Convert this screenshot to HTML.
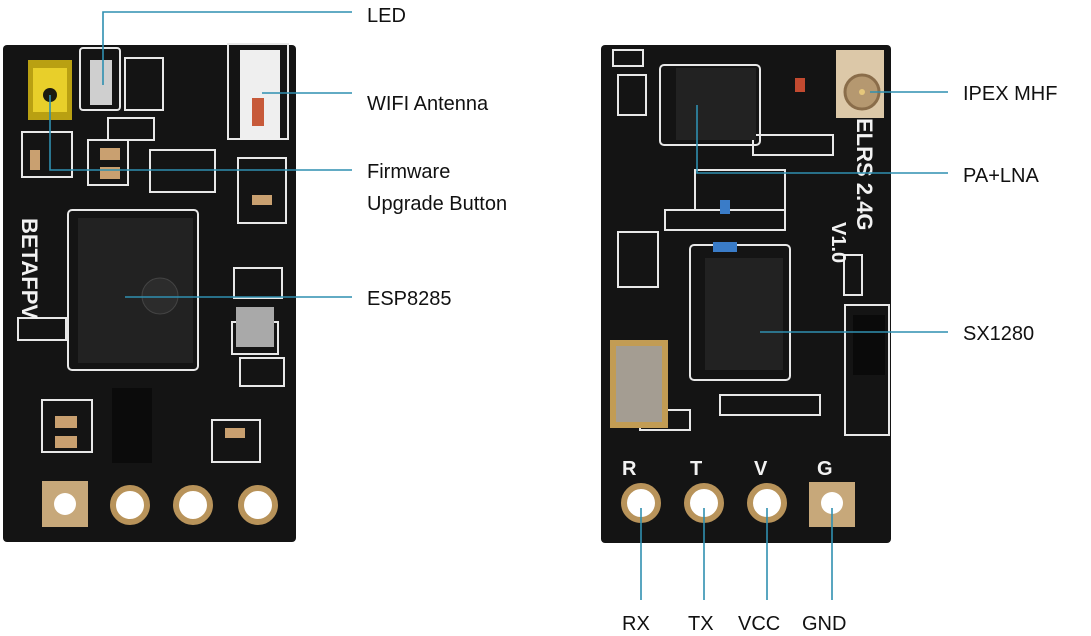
<!DOCTYPE html>
<html><head><meta charset="utf-8"><style>
html,body{margin:0;padding:0;background:#fff;}
svg{display:block;}
text{font-family:"Liberation Sans",Arial,sans-serif;}
.lb{fill:#111;}
.wt{fill:#f2f2f2;}
</style></head><body>
<svg width="1091" height="636" viewBox="0 0 1091 636" xmlns="http://www.w3.org/2000/svg">
<!-- LEFT BOARD -->
<rect x="3" y="45" width="293" height="497" rx="4" fill="#141414"/>
<g fill="none" stroke="#e8e8e8" stroke-width="2">
<rect x="80" y="48" width="40" height="62" rx="3"/>
<rect x="125" y="58" width="38" height="52"/>
<rect x="108" y="118" width="46" height="22"/>
<rect x="88" y="140" width="40" height="45"/>
<rect x="150" y="150" width="65" height="42"/>
<rect x="22" y="132" width="50" height="45"/>
<rect x="228" y="44" width="60" height="95"/>
<rect x="238" y="158" width="48" height="65"/>
<rect x="234" y="268" width="48" height="30"/>
<rect x="18" y="318" width="48" height="22"/>
<rect x="232" y="322" width="46" height="32"/>
<rect x="240" y="358" width="44" height="28"/>
<rect x="42" y="400" width="50" height="52"/>
<rect x="212" y="420" width="48" height="42"/>
<rect x="68" y="210" width="130" height="160" rx="4"/>
</g>
<rect x="28" y="60" width="44" height="60" fill="#b9a012"/>
<rect x="33" y="68" width="34" height="44" fill="#e8cf2a"/>
<circle cx="50" cy="95" r="7" fill="#1a1a10"/>
<rect x="90" y="60" width="22" height="45" fill="#cfcfcf"/>
<rect x="240" y="50" width="40" height="90" fill="#efefef"/>
<rect x="252" y="98" width="12" height="28" fill="#c75a3a"/>
<rect x="236" y="307" width="38" height="40" fill="#a9a9a9"/>
<rect x="78" y="218" width="115" height="145" fill="#222"/>
<circle cx="160" cy="296" r="18" fill="#2c2c2c" stroke="#444"/>
<rect x="112" y="388" width="40" height="75" fill="#0b0b0b"/>
<g fill="#c9a070">
<rect x="100" y="148" width="20" height="12"/><rect x="100" y="167" width="20" height="12"/>
<rect x="55" y="416" width="22" height="12"/><rect x="55" y="436" width="22" height="12"/>
<rect x="252" y="195" width="20" height="10"/><rect x="225" y="428" width="20" height="10"/>
<rect x="30" y="150" width="10" height="20"/>
</g>
<text class="wt" transform="translate(22,218) rotate(90)" font-size="22" font-weight="bold">BETAFPV</text>
<rect x="42" y="481" width="46" height="46" fill="#c7a87a"/>
<circle cx="65" cy="504" r="11" fill="#fff"/>
<g fill="#fff" stroke="#b8935a" stroke-width="6">
<circle cx="130" cy="505" r="17"/><circle cx="193" cy="505" r="17"/><circle cx="258" cy="505" r="17"/>
</g>
<!-- RIGHT BOARD -->
<rect x="601" y="45" width="290" height="498" rx="4" fill="#141414"/>
<g fill="none" stroke="#e8e8e8" stroke-width="2">
<rect x="613" y="50" width="30" height="16"/>
<rect x="618" y="75" width="28" height="40"/>
<rect x="660" y="65" width="100" height="80" rx="4"/>
<rect x="753" y="135" width="80" height="20"/>
<rect x="695" y="170" width="90" height="40"/>
<rect x="665" y="210" width="120" height="20"/>
<rect x="618" y="232" width="40" height="55"/>
<rect x="690" y="245" width="100" height="135" rx="4"/>
<rect x="844" y="255" width="18" height="40"/>
<rect x="845" y="305" width="44" height="130"/>
<rect x="720" y="395" width="100" height="20"/>
<rect x="640" y="410" width="50" height="20"/>
</g>
<rect x="836" y="50" width="48" height="68" fill="#dcc8a8"/>
<circle cx="862" cy="92" r="17" fill="#b59870" stroke="#8a6d4a" stroke-width="3"/>
<circle cx="862" cy="92" r="3" fill="#e6c77b"/>
<rect x="676" y="68" width="80" height="72" fill="#222"/>
<rect x="705" y="258" width="78" height="112" fill="#222"/>
<rect x="610" y="340" width="58" height="88" fill="#c29c54"/>
<rect x="616" y="346" width="46" height="76" fill="#a49d92"/>
<rect x="853" y="315" width="32" height="60" fill="#0a0a0a"/>
<rect x="720" y="200" width="10" height="14" fill="#3a7cc8"/>
<rect x="713" y="242" width="24" height="10" fill="#3a7cc8"/>
<rect x="795" y="78" width="10" height="14" fill="#c24a30"/>
<text class="wt" transform="translate(857,118) rotate(90)" font-size="22" font-weight="bold">ELRS 2.4G</text>
<text class="wt" transform="translate(832,222) rotate(90)" font-size="20" font-weight="bold">V1.0</text>
<text class="wt" x="622" y="475" font-size="20" font-weight="bold">R</text>
<text class="wt" x="690" y="475" font-size="20" font-weight="bold">T</text>
<text class="wt" x="754" y="475" font-size="20" font-weight="bold">V</text>
<text class="wt" x="817" y="475" font-size="20" font-weight="bold">G</text>
<g fill="#fff" stroke="#b8935a" stroke-width="6">
<circle cx="641" cy="503" r="17"/><circle cx="704" cy="503" r="17"/><circle cx="767" cy="503" r="17"/>
</g>
<rect x="809" y="482" width="46" height="45" fill="#c7a87a"/>
<circle cx="832" cy="503" r="11" fill="#fff"/>
<!-- LEADER LINES -->
<g stroke="#2f8fb0" stroke-width="1.6" fill="none">
<polyline points="103,85 103,12 352,12"/>
<line x1="262" y1="93" x2="352" y2="93"/>
<polyline points="50,95 50,170 352,170"/>
<line x1="125" y1="297" x2="352" y2="297"/>
<line x1="870" y1="92" x2="948" y2="92"/>
<polyline points="697,105 697,173 948,173"/>
<line x1="760" y1="332" x2="948" y2="332"/>
<line x1="641" y1="508" x2="641" y2="600"/>
<line x1="704" y1="508" x2="704" y2="600"/>
<line x1="767" y1="508" x2="767" y2="600"/>
<line x1="832" y1="508" x2="832" y2="600"/>
</g>
<!-- LABELS -->
<g font-size="20">
<text class="lb" x="367" y="22">LED</text>
<text class="lb" x="367" y="110">WIFI Antenna</text>
<text class="lb" x="367" y="178">Firmware</text>
<text class="lb" x="367" y="210">Upgrade Button</text>
<text class="lb" x="367" y="305">ESP8285</text>
<text class="lb" x="963" y="100">IPEX MHF</text>
<text class="lb" x="963" y="182">PA+LNA</text>
<text class="lb" x="963" y="340">SX1280</text>
<text class="lb" x="622" y="630">RX</text>
<text class="lb" x="688" y="630">TX</text>
<text class="lb" x="738" y="630">VCC</text>
<text class="lb" x="802" y="630">GND</text>
</g>
</svg>
</body></html>
